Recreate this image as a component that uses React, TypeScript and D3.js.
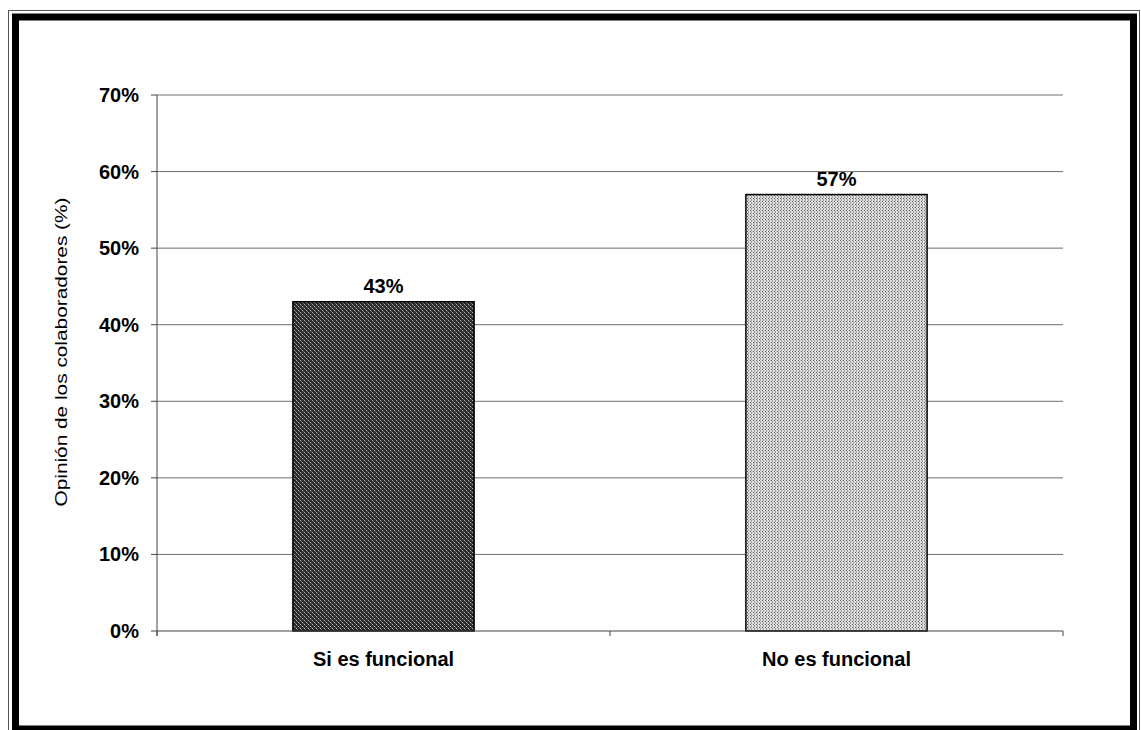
import React from "react";
import * as d3 from "d3";

const categories: string[] = ["Si es funcional", "No es funcional"];
const values: number[] = [43, 57];
const valueLabels: string[] = ["43%", "57%"];
const yTicks: number[] = [0, 10, 20, 30, 40, 50, 60, 70];
const yTitle = "Opinión de los colaboradores (%)";

const W = 1141;
const H = 730;
const plot = { left: 157, right: 1063, top: 95, bottom: 631 };
const FONT = "'Liberation Sans', Arial, Helvetica, sans-serif";

export default function App() {
  const x = d3
    .scaleBand<string>()
    .domain(categories)
    .range([plot.left, plot.right])
    .paddingInner(0.6)
    .paddingOuter(0.3);
  const y = d3.scaleLinear().domain([0, 70]).range([plot.bottom, plot.top]);
  const boundaries = d3
    .range(categories.length + 1)
    .map((i) => plot.left + i * ((plot.right - plot.left) / categories.length));
  const fills = ["url(#crossHatch)", "url(#fineDots)"];

  return (
    <div style={{ position: "absolute", left: 0, top: 0, width: W, height: H, background: "#fff" }}>
      <svg width={W} height={H} viewBox={`0 0 ${W} ${H}`} style={{ display: "block" }}>
        <defs>
          <pattern id="crossHatch" width="4" height="4" patternUnits="userSpaceOnUse">
            <rect width="4" height="4" fill="#2a2a2a" />
            <rect x="0" y="0" width="1" height="1" fill="#b8b8b8" />
            <rect x="2" y="2" width="1" height="1" fill="#b8b8b8" />
            <rect x="1" y="1" width="1" height="1" fill="#6a6a6a" />
            <rect x="3" y="3" width="1" height="1" fill="#6a6a6a" />
          </pattern>
          <pattern id="fineDots" width="3" height="3" patternUnits="userSpaceOnUse">
            <rect width="3" height="3" fill="#dcdcdc" />
            <rect x="0" y="0" width="1" height="1" fill="#5e5e5e" />
            <rect x="1" y="1" width="1" height="2" fill="#a0a0a0" />
          </pattern>
        </defs>

        {/* page frame */}
        <rect x={0} y={0} width={W} height={H} fill="#fff" />
        <rect x={8.5} y={10.5} width={1131} height={730} fill="none" stroke="#555" strokeWidth={1} />
        <rect x={15.5} y={17} width={1118} height={712} fill="none" stroke="#000" strokeWidth={7} />

        {/* gridlines */}
        {yTicks.slice(1).map((t) => (
          <line key={`g${t}`} x1={plot.left} x2={plot.right} y1={y(t)} y2={y(t)} stroke="#6e6e6e" strokeWidth={1} />
        ))}

        {/* bars */}
        {categories.map((c, i) => (
          <rect
            key={c}
            x={x(c)}
            y={y(values[i])}
            width={x.bandwidth()}
            height={y(0) - y(values[i])}
            fill={fills[i]}
            stroke="#000"
            strokeWidth={1.5}
          />
        ))}

        {/* value labels */}
        {categories.map((c, i) => (
          <text
            key={`v${c}`}
            x={(x(c) as number) + x.bandwidth() / 2}
            y={y(values[i]) - 9}
            textAnchor="middle"
            fontFamily={FONT}
            fontWeight="bold"
            fontSize={20}
            fill="#000"
          >
            {valueLabels[i]}
          </text>
        ))}

        {/* y axis */}
        <line x1={plot.left} x2={plot.left} y1={plot.top} y2={plot.bottom + 5} stroke="#444" strokeWidth={1} />
        {yTicks.map((t) => (
          <g key={`t${t}`}>
            <line x1={plot.left - 6} x2={plot.left} y1={y(t)} y2={y(t)} stroke="#444" strokeWidth={1} />
            <text
              x={139}
              y={y(t) + 7}
              textAnchor="end"
              fontFamily={FONT}
              fontWeight="bold"
              fontSize={20}
              fill="#000"
            >
              {`${t}%`}
            </text>
          </g>
        ))}
        <text
          transform="translate(67, 352) rotate(-90)"
          textAnchor="middle"
          fontFamily={FONT}
          fontSize={17}
          textLength={309}
          lengthAdjust="spacingAndGlyphs"
          fill="#000"
        >
          {yTitle}
        </text>

        {/* x axis */}
        <line x1={plot.left} x2={plot.right} y1={plot.bottom} y2={plot.bottom} stroke="#444" strokeWidth={1} />
        {boundaries.map((b, i) => (
          <line key={`b${i}`} x1={b} x2={b} y1={plot.bottom} y2={plot.bottom + 5} stroke="#444" strokeWidth={1} />
        ))}
        {categories.map((c) => (
          <text
            key={`c${c}`}
            x={(x(c) as number) + x.bandwidth() / 2}
            y={666}
            textAnchor="middle"
            fontFamily={FONT}
            fontWeight="bold"
            fontSize={20}
            fill="#000"
          >
            {c}
          </text>
        ))}
      </svg>
    </div>
  );
}
